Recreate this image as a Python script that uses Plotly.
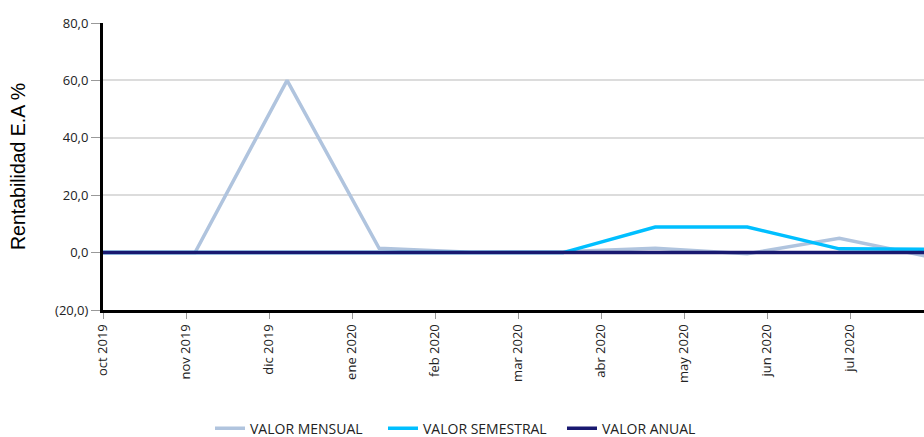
import plotly.graph_objects as go

# ---- data ----
months = ["oct 2019", "nov 2019", "dic 2019", "ene 2020", "feb 2020",
          "mar 2020", "abr 2020", "may 2020", "jun 2020", "jul 2020"]
valor_mensual = [0.0, 0.0, 60.0, 1.5, 0.1, 0.3, 1.5, -0.4, 5.0, -1.6]
valor_semestral = [0.0, 0.0, 0.0, 0.0, 0.0, 0.0, 8.9, 8.9, 1.3, 1.2]
valor_anual = [0.0, 0.0, 0.0, 0.0, 0.0, 0.0, 0.0, 0.0, 0.0, 0.0]
y_ticks = [-20, 0, 20, 40, 60, 80]

x_points = list(range(len(valor_mensual)))
TICK_STEP = 0.902  # month label spacing, in point units
tick_pos = [i * TICK_STEP for i in range(len(months))]


def fmt(v):
    s = f"{abs(v):.1f}".replace(".", ",")
    return f"({s})" if v < 0 else s


fig = go.Figure()
fig.add_trace(go.Scatter(x=x_points, y=valor_mensual, mode="lines", name="VALOR MENSUAL",
                         line=dict(color="#b0c4de", width=3.5), legendwidth=128))
fig.add_trace(go.Scatter(x=x_points, y=valor_semestral, mode="lines", name="VALOR SEMESTRAL",
                         line=dict(color="#00bfff", width=3.5), legendwidth=134))
fig.add_trace(go.Scatter(x=x_points, y=valor_anual, mode="lines", name="VALOR ANUAL",
                         line=dict(color="#191970", width=3.5), legendwidth=100))

fig.update_layout(
    width=924, height=437,
    margin=dict(l=103, r=0, t=23, b=127, autoexpand=False),
    plot_bgcolor="white", paper_bgcolor="white",
    font=dict(family="Open Sans", size=13, color="#222"),
    showlegend=True,
    legend=dict(orientation="h", x=0.433, xanchor="center", y=-0.413, yanchor="middle",
                font=dict(family="Open Sans", size=14, color="#222"),
                itemwidth=30, tracegroupgap=0),
    xaxis=dict(range=[0, 8.92], tickmode="array", tickvals=tick_pos, ticktext=months,
               tickangle=-90, showgrid=False, zeroline=False, automargin=False,
               showline=True, linecolor="black", linewidth=3,
               ticks="outside", ticklen=6, tickcolor="#999", tickwidth=1,
               tickfont=dict(family="Open Sans", size=13, color="#222")),
    yaxis=dict(range=[-20, 80], tickmode="array", tickvals=y_ticks,
               ticktext=[fmt(v) for v in y_ticks], automargin=False,
               showgrid=True, gridcolor="#dcdcdc", gridwidth=2, zeroline=False,
               showline=True, linecolor="black", linewidth=3,
               ticks="outside", ticklen=9, tickcolor="#999", tickwidth=1,
               tickfont=dict(family="Open Sans", size=13, color="#222"),
               title=dict(text="Rentabilidad E.A %", standoff=25,
                          font=dict(family="Liberation Sans", size=19.5, color="black"))),
)

fig.write_html("out.html", config={"displayModeBar": False},
               post_script="document.body.style.margin='0';document.body.style.overflow='hidden';")
